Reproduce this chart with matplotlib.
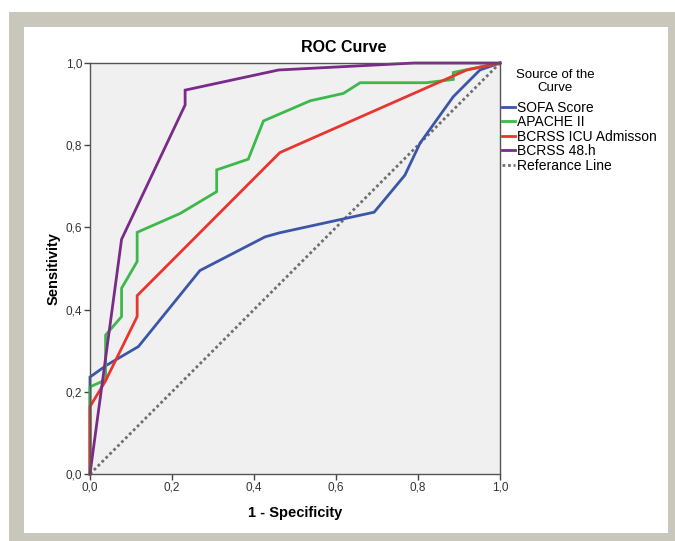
import matplotlib
matplotlib.use("Agg")
import matplotlib.pyplot as plt
from matplotlib.patches import Rectangle

plt.rcParams['font.family'] = ['Liberation Sans', 'DejaVu Sans']

# ---- data ----
sofa_x = [0.0, 0.0, 0.041, 0.118, 0.268, 0.427, 0.463, 0.693, 0.768, 0.805, 0.886, 0.951, 1.0]
sofa_y = [0.0, 0.236, 0.265, 0.310, 0.495, 0.577, 0.587, 0.637, 0.727, 0.805, 0.918, 0.983, 1.0]

apache_x = [0.0, 0.0, 0.038, 0.038, 0.077, 0.077, 0.115, 0.115, 0.22, 0.309, 0.309, 0.386,
            0.423, 0.537, 0.618, 0.659, 0.82, 0.886, 0.886, 1.0]
apache_y = [0.0, 0.212, 0.229, 0.338, 0.383, 0.452, 0.517, 0.588, 0.634, 0.687, 0.740, 0.766,
            0.859, 0.908, 0.926, 0.952, 0.952, 0.960, 0.977, 1.0]

icu_x = [0.0, 0.0, 0.037, 0.115, 0.115, 0.463, 0.919, 1.0]
icu_y = [0.0, 0.164, 0.225, 0.383, 0.434, 0.782, 0.983, 1.0]

h48_x = [0.0, 0.077, 0.232, 0.232, 0.46, 0.79, 1.0]
h48_y = [0.0, 0.571, 0.898, 0.934, 0.983, 1.0, 1.0]

ref_x = [0.0, 1.0]
ref_y = [0.0, 1.0]

labels = ['SOFA Score', 'APACHE II', 'BCRSS ICU Admisson', 'BCRSS 48.h', 'Referance Line']
colors = ['#3b56a8', '#3db84a', '#e8352e', '#7a2a88', '#6e6e6e']
ticks = [0.0, 0.2, 0.4, 0.6, 0.8, 1.0]
tick_labels = ['0,0', '0,2', '0,4', '0,6', '0,8', '1,0']

W, H = 675, 541
fig = plt.figure(figsize=(W / 100, H / 100), dpi=100)
fig.patch.set_facecolor('white')

# frame
fig.patches.append(Rectangle((9 / W, 0), 1 - 9 / W, (H - 12) / H,
                             transform=fig.transFigure, facecolor='#c9c6bb',
                             edgecolor='none', zorder=-2))
fig.patches.append(Rectangle((24 / W, 8 / H), 644 / W, 506 / H,
                             transform=fig.transFigure, facecolor='white',
                             edgecolor='none', zorder=-1))

ax = fig.add_axes([90 / W, (H - 474) / H, 410 / W, 411 / H])
ax.set_zorder(2)
ax.set_facecolor('#f0f0f0')

series = [(sofa_x, sofa_y), (apache_x, apache_y), (icu_x, icu_y), (h48_x, h48_y)]
for (xs, ys), c, lab in zip(series, colors[:4], labels[:4]):
    ax.plot(xs, ys, color=c, lw=2.0, label=lab, solid_joinstyle='miter', clip_on=False)
ax.plot(ref_x, ref_y, color=colors[4], lw=2.0, ls=(0, (1, 1)), label=labels[4], zorder=1)

ax.set_xlim(0, 1)
ax.set_ylim(0, 1)
ax.set_xticks(ticks)
ax.set_yticks(ticks)
ax.set_xticklabels(tick_labels)
ax.set_yticklabels(tick_labels)
ax.tick_params(direction='out', length=4, width=1, color='#444444',
               labelsize=8.5, labelcolor='#333333', pad=1.5)
for s in ax.spines.values():
    s.set_color('#555555')
    s.set_linewidth(1.0)

fig.text(344 / W, (H - 48) / H, 'ROC Curve', fontsize=11.5, fontweight='bold',
         ha='center', va='center')
ax.set_xlabel('1 - Specificity', fontsize=10.5, fontweight='bold', labelpad=9)
ax.set_ylabel('Sensitivity', fontsize=10.5, fontweight='bold', labelpad=4)

fig.text(555 / W, (H - 81.5) / H, 'Source of the\nCurve', fontsize=9.5,
         ha='center', va='center', multialignment='center', linespacing=1.05)

leg = ax.legend(loc='upper left', bbox_to_anchor=(502 / W, (H - 100.5) / H),
                bbox_transform=fig.transFigure, frameon=False,
                fontsize=10, handlelength=0.9, handletextpad=0.15,
                labelspacing=0.04, borderpad=0, borderaxespad=0)

fig.savefig('out.png', dpi=100, facecolor=fig.get_facecolor())
